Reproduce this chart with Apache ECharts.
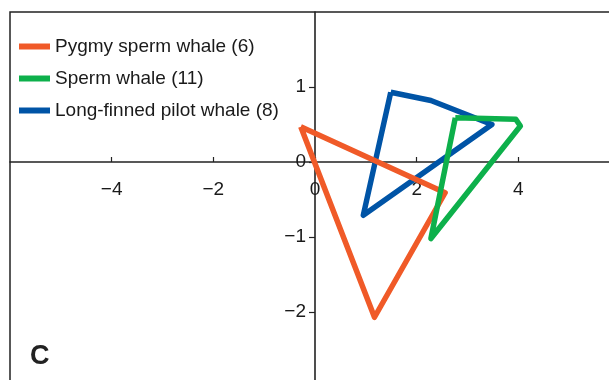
<!DOCTYPE html>
<html>
<head>
<meta charset="utf-8">
<script src="https://cdn.jsdelivr.net/npm/echarts@6/dist/echarts.min.js"></script>
<style>
  html, body { margin: 0; padding: 0; background: #fff; }
  #chart { width: 609px; height: 380px; }
</style>
</head>
<body>
<div id="chart"></div>
<script>
// convex hulls of the three groups, [x, y] vertices
const seriesNames = ['Pygmy sperm whale (6)', 'Sperm whale (11)', 'Long-finned pilot whale (8)'];
const seriesColors = ['#F05A28', '#0DB04B', '#0054A6'];
const pygmyHull = [[-0.28, 0.47], [2.56, -0.41], [1.17, -2.07]];
const spermHull = [[2.76, 0.59], [3.95, 0.57], [4.04, 0.48], [2.28, -1.02]];
const pilotHull = [[1.49, 0.93], [2.28, 0.82], [3.48, 0.5], [0.95, -0.71]];
const xRange = [-6, 6];
const yRange = [-3, 2];
const panelLabel = 'C';

const font = '"Liberation Sans", Arial, Helvetica, sans-serif';
const minus = v => (v < 0 ? '\u2212' + Math.abs(v) : String(v));
const closeRing = pts => pts.concat([pts[0]]);

const hulls = [pygmyHull, spermHull, pilotHull];
// pilot whale drawn first so the others sit on top
const drawOrder = [2, 0, 1];

const gridW = 610, gridH = 375;
// axes sit on the zero lines: shift them in from the grid edges
const xAxisShift = -gridH * (0 - yRange[0]) / (yRange[1] - yRange[0]);
const yAxisShift = -gridW * (0 - xRange[0]) / (xRange[1] - xRange[0]);

const chart = echarts.init(document.getElementById('chart'));

chart.setOption({
  animation: false,
  grid: {
    show: true,
    left: 10, top: 12, width: gridW, height: gridH,
    containLabel: false, outerBoundsMode: 'none',
    borderColor: '#222', borderWidth: 1.5,
    backgroundColor: 'transparent'
  },
  legend: {
    data: seriesNames,
    orient: 'vertical',
    left: 19, top: 37, padding: 0,
    itemWidth: 31, itemHeight: 6, itemGap: 13,
    icon: 'rect',
    textStyle: { fontFamily: font, fontSize: 19, color: '#1a1a1a' }
  },
  graphic: [{
    type: 'text', left: 30, top: 343,
    style: { text: panelLabel, font: 'bold 27px ' + font, fill: '#222' }
  }],
  xAxis: {
    type: 'value', min: xRange[0], max: xRange[1], interval: 2,
    position: 'bottom', offset: xAxisShift,
    axisLine: { onZero: false, lineStyle: { color: '#222', width: 1.6 } },
    axisTick: { inside: true, length: 5, lineStyle: { color: '#222', width: 1.2 } },
    axisLabel: {
      showMinLabel: false, margin: 18, formatter: minus,
      fontFamily: font, fontSize: 19, color: '#1a1a1a'
    },
    splitLine: { show: false }
  },
  yAxis: {
    type: 'value', min: yRange[0], max: yRange[1], interval: 1,
    position: 'left', offset: yAxisShift,
    axisLine: { onZero: false, lineStyle: { color: '#222', width: 1.6 } },
    axisTick: { length: 6, lineStyle: { color: '#222', width: 1.2 } },
    axisLabel: {
      showMinLabel: false, showMaxLabel: false, margin: 9, formatter: minus,
      fontFamily: font, fontSize: 19, color: '#1a1a1a'
    },
    splitLine: { show: false }
  },
  series: drawOrder.map(i => ({
    name: seriesNames[i],
    type: 'line',
    data: closeRing(hulls[i]),
    symbol: 'none',
    color: seriesColors[i],
    lineStyle: { width: 5.5, color: seriesColors[i], join: 'round' }
  }))
});
</script>
</body>
</html>
